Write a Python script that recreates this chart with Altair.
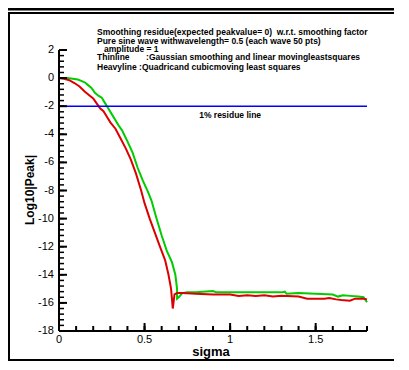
import altair as alt
import pandas as pd

# ---- data ----
red_sigma = [0.0, 0.03, 0.06, 0.09, 0.12, 0.15, 0.18, 0.20, 0.22, 0.24, 0.26, 0.28, 0.30,
             0.33, 0.36, 0.39, 0.42, 0.45, 0.48, 0.50, 0.53, 0.56, 0.59, 0.62, 0.64, 0.655,
             0.665, 0.675, 0.69, 0.72, 0.80, 0.90, 1.00, 1.05, 1.10, 1.15, 1.20, 1.25, 1.30,
             1.40, 1.45, 1.50, 1.55, 1.58, 1.62, 1.65, 1.70, 1.73, 1.78, 1.80]
red_log = [0.0, -0.05, -0.15, -0.35, -0.6, -0.95, -1.25, -1.45, -1.8, -2.15, -2.35, -2.75, -3.15,
           -3.6, -4.3, -5.0, -5.8, -6.8, -8.0, -8.9, -10.0, -11.0, -12.0, -12.95, -14.0, -15.0,
           -16.4, -15.4, -15.3, -15.3, -15.35, -15.4, -15.4, -15.5, -15.45, -15.5, -15.45, -15.55, -15.5,
           -15.55, -15.7, -15.7, -15.7, -15.65, -15.75, -15.8, -15.85, -15.7, -15.7, -15.75]

green_sigma = [0.0, 0.05, 0.08, 0.11, 0.13, 0.15, 0.17, 0.19, 0.21, 0.23, 0.25, 0.27, 0.29,
               0.31, 0.33, 0.35, 0.37, 0.40, 0.43, 0.46, 0.49, 0.52, 0.54, 0.57, 0.60, 0.63,
               0.66, 0.68, 0.69, 0.69, 0.70, 0.72, 0.75, 0.80, 0.90, 0.92, 1.00, 1.20, 1.30,
               1.32, 1.33, 1.40, 1.50, 1.60, 1.63, 1.66, 1.70, 1.75, 1.78, 1.80]
green_log = [0.0, 0.0, -0.05, -0.1, -0.2, -0.3, -0.5, -0.7, -1.05, -1.25, -1.4, -1.8, -2.2,
             -2.6, -3.0, -3.4, -3.75, -4.5, -5.3, -6.4, -7.3, -8.1, -8.7, -10.0, -11.2, -12.3,
             -13.1, -14.0, -15.0, -15.7, -15.6, -15.3, -15.25, -15.25, -15.15, -15.25, -15.25, -15.25, -15.25,
             -15.2, -15.35, -15.3, -15.35, -15.4, -15.55, -15.45, -15.5, -15.55, -15.6, -15.95]

residue_level = -2
residue_span = [0.0, 1.8]

x_major = [0, 0.5, 1.0, 1.5]
x_labels = ["0", "0.5", "1", "1.5"]
x_minor = [round(0.1 * i, 1) for i in range(0, 19)]
y_major = [-18, -16, -14, -12, -10, -8, -6, -4, -2, 0, 2]
y_labels = ["-18", "-16", "-14", "-12", "-10", "-8", "-6", "-4", "-2", "0", "2"]
y_minor = [round(-18 + 0.4 * i, 1) for i in range(0, 51)]
x_range = [0.0, 1.8]
y_range = [-18.0, 2.0]

x_title = "sigma"
y_title = "Log10|Peak|"

NB = "\u00a0"
notes = [
    "Smoothing residue(expected peakvalue= 0)" + NB * 2 + "w.r.t. smoothing factor",
    "Pure sine wave withwavelength= 0.5 (each wave 50 pts)",
    "amplitude = 1",
    "Thinline" + NB * 7 + ":Gaussian smoothing and linear movingleastsquares",
    "Heavyline" + NB + ":Quadricand cubicmoving least squares",
]

W, H = 308, 281
FONT = "Liberation Sans"

xs = alt.Scale(domain=x_range, nice=False, zero=False)
ys = alt.Scale(domain=y_range, nice=False, zero=False)


def X(f):
    return alt.X(f, scale=xs, axis=None)


def Y(f):
    return alt.Y(f, scale=ys, axis=None)


red_df = pd.DataFrame({"sigma": red_sigma, "v": red_log, "i": range(len(red_sigma))})
green_df = pd.DataFrame({"sigma": green_sigma, "v": green_log, "i": range(len(green_sigma))})

green = alt.Chart(green_df).mark_line(color="#00cc00", strokeWidth=2).encode(
    x=X("sigma:Q"), y=Y("v:Q"), order="i:Q")
red = alt.Chart(red_df).mark_line(color="#dd0000", strokeWidth=2).encode(
    x=X("sigma:Q"), y=Y("v:Q"), order="i:Q")

res_df = pd.DataFrame({"x0": [residue_span[0]], "x1": [residue_span[1]], "y": [residue_level]})
residue = alt.Chart(res_df).mark_rule(color="#0000ff", strokeWidth=1.5).encode(
    x=X("x0:Q"), x2="x1:Q", y=Y("y:Q"))
residue_text = alt.Chart(pd.DataFrame({"x": [1.0], "y": [residue_level], "t": ["1% residue line"]})).mark_text(
    font=FONT, fontSize=8.5, fontWeight="bold", dy=9, color="black").encode(
    x=X("x:Q"), y=Y("y:Q"), text="t:N")

# axis domain lines
xdom = alt.Chart(pd.DataFrame({"a": [x_range[0]], "b": [x_range[1]], "y": [y_range[0]]})).mark_rule(
    color="black", strokeWidth=2).encode(x=X("a:Q"), x2="b:Q", y=Y("y:Q"))
ydom = alt.Chart(pd.DataFrame({"a": [y_range[0]], "b": [y_range[1]], "x": [x_range[0]]})).mark_rule(
    color="black", strokeWidth=2).encode(y=Y("a:Q"), y2="b:Q", x=X("x:Q"))

# tick marks (inward)
xmaj = alt.Chart(pd.DataFrame({"t": x_major})).mark_rule(color="black", strokeWidth=2).encode(
    x=X("t:Q"), y=alt.value(H), y2=alt.value(H - 8))
xmin = alt.Chart(pd.DataFrame({"t": x_minor})).mark_rule(color="black", strokeWidth=2).encode(
    x=X("t:Q"), y=alt.value(H), y2=alt.value(H - 5))
ymaj = alt.Chart(pd.DataFrame({"t": y_major})).mark_rule(color="black", strokeWidth=2).encode(
    y=Y("t:Q"), x=alt.value(0), x2=alt.value(8))
ymin = alt.Chart(pd.DataFrame({"t": y_minor})).mark_rule(color="black", strokeWidth=1.5).encode(
    y=Y("t:Q"), x=alt.value(0), x2=alt.value(5))

# tick labels
xlab = alt.Chart(pd.DataFrame({"t": x_major, "l": x_labels})).mark_text(
    font=FONT, fontSize=11, color="black", baseline="middle", align="center").encode(
    x=X("t:Q"), y=alt.value(H + 9), text="l:N")
ylab = alt.Chart(pd.DataFrame({"t": y_major, "l": y_labels})).mark_text(
    font=FONT, fontSize=11, color="black", baseline="middle", align="right").encode(
    y=Y("t:Q"), x=alt.value(-5), text="l:N")

# axis titles
xtit = alt.Chart(pd.DataFrame({"t": [x_title]})).mark_text(
    font=FONT, fontSize=13, fontWeight="bold", color="black", baseline="middle", align="center").encode(
    x=alt.value(152), y=alt.value(H + 21), text="t:N")
ytit = alt.Chart(pd.DataFrame({"t": [y_title]})).mark_text(
    font=FONT, fontSize=12, fontWeight="bold", color="black", baseline="middle", align="center",
    angle=270).encode(x=alt.value(-29), y=alt.value(140), text="t:N")

# annotation text block
note_pos = [(38, -18), (38, -9), (45, -1.5), (38, 6.5), (38, 16.5)]
note_layers = []
for txt, (px, py) in zip(notes, note_pos):
    note_layers.append(
        alt.Chart(pd.DataFrame({"t": [txt]})).mark_text(
            font=FONT, fontSize=8.5, fontWeight="bold", align="left", baseline="middle",
            color="black").encode(x=alt.value(px), y=alt.value(py), text="t:N"))

# outer frame: thick top bar plus one open polyline (top-thin, left, bottom)
top_bar = alt.Chart(pd.DataFrame({"a": [0]})).mark_rect(color="black").encode(
    x=alt.value(-51), x2=alt.value(335), y=alt.value(-42), y2=alt.value(-39.5))
frame_df = pd.DataFrame({"px": [335, -50, -50, 335], "py": [-37, -37, 310, 310], "k": [0, 1, 2, 3]})
frame_line = alt.Chart(frame_df).mark_line(color="black", strokeWidth=2).encode(
    x=alt.X("px:Q", scale=None, axis=None), y=alt.Y("py:Q", scale=None, axis=None), order="k:Q")

chart = alt.layer(
    green, red, residue, residue_text, xdom, ydom, xmaj, xmin, ymaj, ymin, xlab, ylab,
    xtit, ytit, *note_layers, top_bar, frame_line
).properties(
    width=W, height=H,
    autosize=alt.AutoSizeParams(type="none"),
    padding={"left": 51, "top": 42, "right": 30, "bottom": 30},
).configure_view(stroke=None)

chart.save("out.html", embed_options={"renderer": "svg", "actions": False})
